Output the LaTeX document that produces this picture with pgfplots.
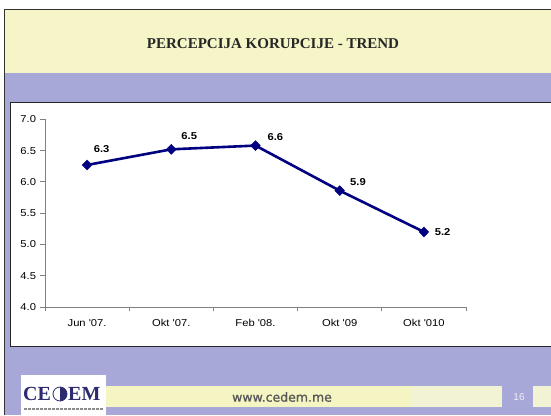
\documentclass[border=0pt]{standalone}
\usepackage{pgfplots}
\pgfplotsset{compat=1.18}
\usepackage{pgfplotstable}
\usepackage{fontspec}
\setmainfont{Liberation Sans}
\newfontfamily\timesfont{Liberation Serif}
\newfontfamily\dejavufont[FakeBold=1.2]{DejaVu Sans}
\definecolor{slideyellow}{HTML}{F5F5C8}
\definecolor{slidepurple}{HTML}{A8A8D8}
\definecolor{footyellow}{HTML}{F5F5C3}
\definecolor{footyellowb}{HTML}{F2F2D4}
\definecolor{linenavy}{HTML}{000080}
\definecolor{axisgray}{HTML}{808080}
\definecolor{logoblue}{HTML}{2B2B6E}

\pgfplotstableread{
x y lab dx dy
0 6.27 6.3 13 16
1 6.52 6.5 16 13.6
2 6.58 6.6 17.7 8.3
3 5.86 5.9 16.3 8.4
4 5.20 5.2 16.7 0
}\datatable

\begin{document}
\begin{tikzpicture}[x=1pt,y=1pt]
\path[use as bounding box] (0,0) rectangle (551,415);
\fill[white] (0,0) rectangle (551,415);
\fill[slidepurple] (4,0) rectangle (551,405);
\fill[slideyellow] (4,342) rectangle (551,405);
\draw[black!80, line width=1pt] (4,0) -- (4,405) -- (551,405);
\filldraw[fill=white, draw=black!85, line width=1pt] (551,312) -- (10,312) -- (10,69) -- (551,69);
\node[font=\timesfont\bfseries\fontsize{15}{17}\selectfont, text=black!85] at (273,371) {PERCEPCIJA KORUPCIJE - TREND};
% footer
\fill[footyellow] (21,8) rectangle (412,29);
\fill[footyellowb] (412,8) rectangle (502,29);
\fill[footyellowb] (533,8) rectangle (551,29);
\node[font=\fontsize{10}{12}\selectfont, text=white!80!slidepurple] at (519,18) {16};
\node[font=\dejavufont\fontsize{12.5}{14}\selectfont, text=black!65] at (282,18) {www.cedem.me};
\fill[white] (21,0) rectangle (106,40);
\node[font=\timesfont\bfseries\fontsize{20}{20}\selectfont, text=logoblue, anchor=base west, inner sep=0pt] at (23,15) {CE};
\draw[logoblue, line width=0.8pt] (60,21) circle (7);
\fill[logoblue] (60,14) arc (-90:90:7) -- cycle;
\node[font=\timesfont\bfseries\fontsize{20}{20}\selectfont, text=logoblue, anchor=base west, inner sep=0pt] at (68,15) {EM};
\draw[black!45, line width=1.2pt, dash pattern=on 3pt off 1pt] (24,6) -- (103,6);
\begin{axis}[
  at={(45pt,108pt)}, anchor=south west,
  scale only axis, width=421pt, height=187.7pt,
  xmin=-0.5, xmax=4.5, ymin=4, ymax=7,
  axis x line*=bottom, axis y line*=left,
  axis line style={axisgray, line width=0.8pt},
  tick style={axisgray, line width=0.8pt},
  tick align=outside,
  major tick length=5pt, minor tick length=4pt,
  xtick={0,1,2,3,4},
  xticklabels={Jun \textquotesingle07., Okt \textquotesingle07., Feb \textquotesingle08., Okt \textquotesingle09, Okt \textquotesingle010},
  minor xtick={-0.5,0.5,1.5,2.5,3.5,4.5},
  major x tick style={draw=none},
  ytick={4,4.5,5,5.5,6,6.5,7},
  yticklabel style={/pgf/number format/.cd, fixed, fixed zerofill, precision=1},
  xticklabel style={yshift=-4pt},
  /pgf/number format/assume math mode=true,
  ticklabel style={font=\fontsize{10}{12}\selectfont, xscale=1.12, text=black},
  clip=false,
]
\addplot[linenavy, line width=2.6pt, mark=diamond*, mark size=5pt,
  mark options={xscale=1.3, fill=linenavy, draw=linenavy, line width=0.4pt, solid},
  nodes near coords, point meta=explicit symbolic,
  visualization depends on={\thisrow{dx}\as\dx},
  visualization depends on={\thisrow{dy}\as\dy},
  every node near coord/.append style={font=\bfseries\fontsize{10}{12}\selectfont, xscale=1.12, anchor=center, xshift=\dx*1pt, yshift=\dy*1pt, text=black}]
  table[x=x, y=y, meta=lab] {\datatable};
\end{axis}
\end{tikzpicture}
\end{document}
